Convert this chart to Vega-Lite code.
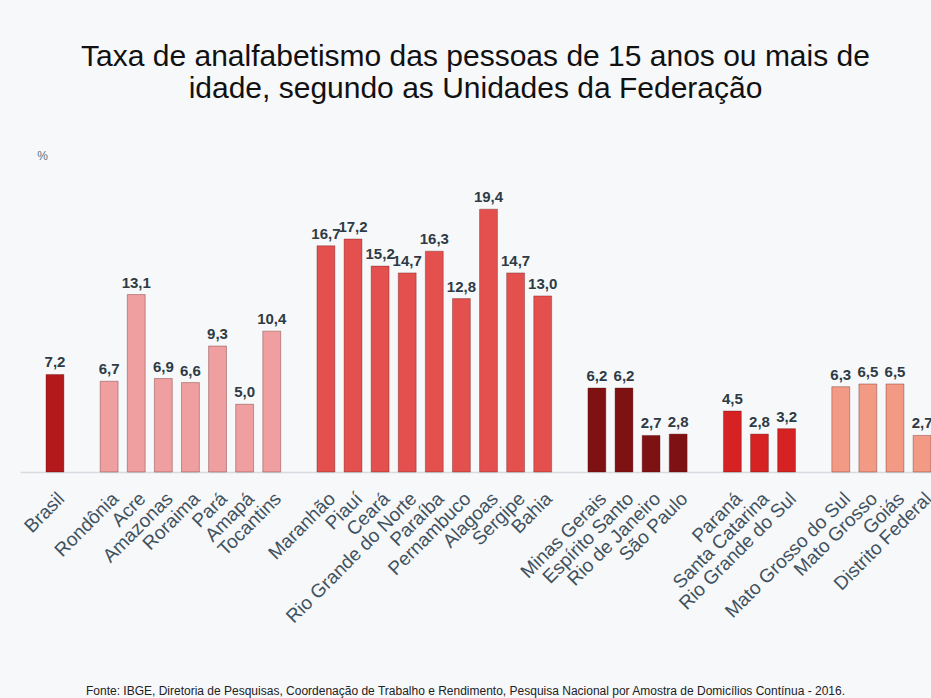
{
  "$schema": "https://vega.github.io/schema/vega-lite/v6.json",
  "width": 911,
  "height": 298,
  "autosize": {"type": "none"},
  "padding": {"left": 20, "top": 174, "right": 0, "bottom": 226},
  "background": "#f7f8fa",
  "config": {
    "locale": {"number": {"decimal": ",", "thousands": ".", "grouping": [3], "currency": ["R$", ""]}},
    "view": {"stroke": null},
    "font": "Liberation Sans"
  },
  "title": {
    "text": ["Taxa de analfabetismo das pessoas de 15 anos ou mais de", "idade, segundo as Unidades da Federação"],
    "fontSize": 30,
    "fontWeight": "normal",
    "lineHeight": 32,
    "anchor": "middle",
    "offset": 45,
    "color": "#111111"
  },
  "data": {
    "values": [
      {"uf": "Brasil", "taxa": 7.2, "regiao": "Brasil"},
      {"uf": " ", "taxa": null, "regiao": null},
      {"uf": "Rondônia", "taxa": 6.7, "regiao": "Norte"},
      {"uf": "Acre", "taxa": 13.1, "regiao": "Norte"},
      {"uf": "Amazonas", "taxa": 6.9, "regiao": "Norte"},
      {"uf": "Roraima", "taxa": 6.6, "regiao": "Norte"},
      {"uf": "Pará", "taxa": 9.3, "regiao": "Norte"},
      {"uf": "Amapá", "taxa": 5.0, "regiao": "Norte"},
      {"uf": "Tocantins", "taxa": 10.4, "regiao": "Norte"},
      {"uf": "  ", "taxa": null, "regiao": null},
      {"uf": "Maranhão", "taxa": 16.7, "regiao": "Nordeste"},
      {"uf": "Piauí", "taxa": 17.2, "regiao": "Nordeste"},
      {"uf": "Ceará", "taxa": 15.2, "regiao": "Nordeste"},
      {"uf": "Rio Grande do Norte", "taxa": 14.7, "regiao": "Nordeste"},
      {"uf": "Paraíba", "taxa": 16.3, "regiao": "Nordeste"},
      {"uf": "Pernambuco", "taxa": 12.8, "regiao": "Nordeste"},
      {"uf": "Alagoas", "taxa": 19.4, "regiao": "Nordeste"},
      {"uf": "Sergipe", "taxa": 14.7, "regiao": "Nordeste"},
      {"uf": "Bahia", "taxa": 13.0, "regiao": "Nordeste"},
      {"uf": "   ", "taxa": null, "regiao": null},
      {"uf": "Minas Gerais", "taxa": 6.2, "regiao": "Sudeste"},
      {"uf": "Espírito Santo", "taxa": 6.2, "regiao": "Sudeste"},
      {"uf": "Rio de Janeiro", "taxa": 2.7, "regiao": "Sudeste"},
      {"uf": "São Paulo", "taxa": 2.8, "regiao": "Sudeste"},
      {"uf": "    ", "taxa": null, "regiao": null},
      {"uf": "Paraná", "taxa": 4.5, "regiao": "Sul"},
      {"uf": "Santa Catarina", "taxa": 2.8, "regiao": "Sul"},
      {"uf": "Rio Grande do Sul", "taxa": 3.2, "regiao": "Sul"},
      {"uf": "     ", "taxa": null, "regiao": null},
      {"uf": "Mato Grosso do Sul", "taxa": 6.3, "regiao": "Centro-Oeste"},
      {"uf": "Mato Grosso", "taxa": 6.5, "regiao": "Centro-Oeste"},
      {"uf": "Goiás", "taxa": 6.5, "regiao": "Centro-Oeste"},
      {"uf": "Distrito Federal", "taxa": 2.7, "regiao": "Centro-Oeste"}
    ]
  },
  "encoding": {
    "x": {
      "field": "uf",
      "type": "nominal",
      "sort": null,
      "scale": {
        "domain": ["Brasil", " ", "Rondônia", "Acre", "Amazonas", "Roraima", "Pará", "Amapá", "Tocantins", "  ", "Maranhão", "Piauí", "Ceará", "Rio Grande do Norte", "Paraíba", "Pernambuco", "Alagoas", "Sergipe", "Bahia", "   ", "Minas Gerais", "Espírito Santo", "Rio de Janeiro", "São Paulo", "    ", "Paraná", "Santa Catarina", "Rio Grande do Sul", "     ", "Mato Grosso do Sul", "Mato Grosso", "Goiás", "Distrito Federal"],
        "paddingInner": 0.34,
        "paddingOuter": 0.48,
        "align": 1
      },
      "axis": {
        "title": "Fonte: IBGE, Diretoria de Pesquisas, Coordenação de Trabalho e Rendimento, Pesquisa Nacional por Amostra de Domicílios Contínua - 2016.",
        "titleX": 445,
        "titleY": 218,
        "titleAlign": "center",
        "titleBaseline": "middle",
        "titleFontSize": 12,
        "titleFontWeight": "normal",
        "titleColor": "#222222",
        "labelAngle": -45,
        "labelFontSize": 19,
        "labelColor": "#3f5260",
        "labelPadding": 17,
        "labelDx": -6,
        "labelLimit": 300,
        "labelOverlap": false,
        "ticks": false,
        "domainColor": "#d5dbe0",
        "domainWidth": 1.5
      }
    },
    "y": {
      "field": "taxa",
      "type": "quantitative",
      "scale": {"domain": [0, 22]},
      "axis": {
        "title": "%",
        "titleAngle": 0,
        "titleX": 22,
        "titleY": -19,
        "titleAlign": "center",
        "titleBaseline": "middle",
        "titleFontSize": 12,
        "titleFontWeight": "normal",
        "titleColor": "#5a7080",
        "labels": false,
        "ticks": false,
        "domain": false,
        "grid": false
      }
    }
  },
  "layer": [
    {
      "mark": {"type": "bar", "stroke": "#5a1010", "strokeOpacity": 0.35, "strokeWidth": 1},
      "encoding": {
        "color": {
          "field": "regiao",
          "type": "nominal",
          "scale": {
            "domain": ["Brasil", "Norte", "Nordeste", "Sudeste", "Sul", "Centro-Oeste"],
            "range": ["#b3181a", "#ef9fa0", "#e4504e", "#7e1212", "#d62222", "#f39a85"]
          },
          "legend": null
        }
      }
    },
    {
      "transform": [{"filter": "isValid(datum.taxa)"}],
      "mark": {"type": "text", "dy": -7, "baseline": "alphabetic", "fontWeight": "bold", "fontSize": 15, "color": "#2e3b45"},
      "encoding": {
        "text": {"field": "taxa", "type": "quantitative", "format": ".1f"}
      }
    }
  ]
}
